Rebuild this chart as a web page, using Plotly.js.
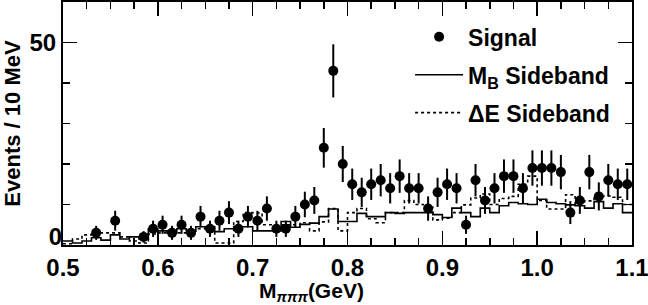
<!DOCTYPE html>
<html>
<head>
<meta charset="utf-8">
<script src="https://cdn.plot.ly/plotly-3.0.1.min.js"></script>
<style>
  html, body { margin: 0; padding: 0; background: #fff; }
  #chart { width: 648px; height: 305px; }
</style>
</head>
<body>
<div id="chart"></div>
<script>
// Bin centers (GeV), 10 MeV bins from 0.5 to 1.1
const binCenters = [
  0.505, 0.515, 0.525, 0.535, 0.545, 0.555, 0.565, 0.575, 0.585, 0.595,
  0.605, 0.615, 0.625, 0.635, 0.645, 0.655, 0.665, 0.675, 0.685, 0.695,
  0.705, 0.715, 0.725, 0.735, 0.745, 0.755, 0.765, 0.775, 0.785, 0.795,
  0.805, 0.815, 0.825, 0.835, 0.845, 0.855, 0.865, 0.875, 0.885, 0.895,
  0.905, 0.915, 0.925, 0.935, 0.945, 0.955, 0.965, 0.975, 0.985, 0.995,
  1.005, 1.015, 1.025, 1.035, 1.045, 1.055, 1.065, 1.075, 1.085, 1.095
];
const binWidth = 0.01;

// Signal region events per bin (null = empty bin, no marker)
const signalCounts = [
  null, null, null, 3, null, 6, null, null, 2, 4,
  5, 3, 5, 3, 7, 4, 6, 8, 4, 7,
  6, 9, 4, 4, 7, 10, 11, 24, 43, 20,
  15, 13, 15, 16, 14, 17, 14, 14, 9, 13,
  15, 14, 5, 16, 11, 14, 17, 17, 14, 19,
  19, 19, 18, 8, 11, 18, 12, 16, 15, 15
];

// M_B sideband (scaled), solid histogram
const mbSideband = [
  1.0, 0.5, 1.0, 1.8, 1.2, 2.5, 1.5, 2.0, 1.5, 4.0,
  3.5, 3.0, 4.0, 3.5, 4.5, 4.0, 3.3, 4.0, 4.5, 4.5,
  3.5, 3.5, 3.5, 5.8, 4.4, 5.1, 5.4, 7.0, 8.9, 5.8,
  5.8, 7.8, 7.0, 7.0, 8.0, 7.8, 8.0, 8.0, 8.0, 7.5,
  6.8, 9.1, 8.0, 7.0, 9.1, 8.0, 9.7, 10.5, 10.2, 10.0,
  11.3, 10.5, 10.2, 9.9, 9.7, 9.1, 10.7, 9.1, 10.2, 8.0
];

// ΔE sideband (scaled), dotted histogram
const deSideband = [
  0.3, 1.5, 2.5, 3.0, 3.0, 3.0, 2.0, 1.0, 0.5, 2.7,
  3.0, 3.5, 3.0, 3.5, 4.0, 4.5, 0.5, 0.5, 5.8, 8.0,
  7.9, 5.0, 5.0, 5.0, 5.0, 5.5, 3.5, 5.7, 9.0, 3.5,
  8.0, 9.0, 6.5, 5.5, 8.0, 8.0, 11.0, 10.0, 9.3, 6.2,
  6.6, 8.0, 9.9, 11.6, 12.6, 10.0, 11.5, 12.0, 15.0, 17.0,
  11.0, 8.9, 8.9, 12.4, 10.2, 10.9, 12.0, 12.1, 11.8, 10.0
];

const xTickVals = [0.5, 0.6, 0.7, 0.8, 0.9, 1.0, 1.1];
const yTickVals = [0, 50];
const yTickText = ['', '50'];
const yZeroVals = [0];
const legendNames = ['Signal', 'M<sub>B</sub> Sideband', 'ΔE Sideband'];

// Step outline: lower edges plus the final upper edge
function stepX(centers) {
  const xs = centers.map(c => c - binWidth / 2);
  xs.push(centers[centers.length - 1] + binWidth / 2);
  return xs;
}
function stepY(vals) {
  const ys = vals.slice();
  ys.push(vals[vals.length - 1]);
  return ys;
}

const FONT = 'Liberation Sans, Arial, Helvetica, sans-serif';

const traces = [
  {
    x: stepX(binCenters), y: stepY(mbSideband),
    type: 'scatter', mode: 'lines', name: legendNames[1],
    line: { shape: 'hv', color: 'black', width: 1.6 },
    legendgroup: 'b', legendrank: 2, hoverinfo: 'skip'
  },
  {
    x: stepX(binCenters), y: stepY(deSideband),
    type: 'scatter', mode: 'lines', name: legendNames[2],
    line: { shape: 'hv', color: 'black', width: 1.6, dash: 'dot' },
    legendgroup: 'c', legendrank: 3, hoverinfo: 'skip'
  },
  {
    x: binCenters, y: signalCounts,
    type: 'scatter', mode: 'markers', name: legendNames[0],
    marker: { symbol: 'circle', size: 10, color: 'black' },
    error_y: { type: 'sqrt', visible: true, width: 0, thickness: 2, color: 'black' },
    legendgroup: 'a', legendrank: 1
  },
  // empty helper trace so the overlaid axis carrying the "0" label is drawn
  {
    x: [], y: [], type: 'scatter', mode: 'markers',
    xaxis: 'x', yaxis: 'y2', showlegend: false, hoverinfo: 'skip'
  }
];

const layout = {
  width: 648, height: 305,
  margin: { l: 63, r: 16, t: 2, b: 60 },
  paper_bgcolor: 'white', plot_bgcolor: 'white',
  font: { family: FONT, size: 22, color: 'black', weight: 'bold' },
  showlegend: true,
  legend: {
    x: 0.61, y: 0.945, xanchor: 'left', yanchor: 'top',
    bgcolor: 'rgba(0,0,0,0)', borderwidth: 0,
    font: { family: FONT, size: 23, color: 'black', weight: 'bold' },
    itemwidth: 48, tracegroupgap: 5, traceorder: 'grouped'
  },
  xaxis: {
    range: [0.5, 1.1],
    tickmode: 'array', tickvals: xTickVals, tickformat: '.1f',
    ticks: 'inside', ticklen: 14, tickwidth: 1.5, tickcolor: 'black',
    minor: { dtick: 0.025, tick0: 0.5, ticks: 'inside', ticklen: 7, tickwidth: 1.5, tickcolor: 'black' },
    showline: true, linewidth: 2, linecolor: 'black', mirror: 'ticks',
    showgrid: false, zeroline: false,
    ticklabeloverflow: 'allow',
    tickfont: { family: FONT, size: 24, color: 'black', weight: 'bold' }
  },
  yaxis: {
    range: [0, 60],
    tickmode: 'array', tickvals: yTickVals, ticktext: yTickText,
    ticks: 'inside', ticklen: 14, tickwidth: 1.5, tickcolor: 'black',
    minor: { dtick: 10, tick0: 0, ticks: 'inside', ticklen: 7, tickwidth: 1.5, tickcolor: 'black' },
    showline: true, linewidth: 2, linecolor: 'black', mirror: 'ticks',
    showgrid: false, zeroline: false,
    tickfont: { family: FONT, size: 24, color: 'black', weight: 'bold' },
    title: { text: 'Events / 10 MeV', standoff: 4, font: { family: FONT, size: 22, color: 'black', weight: 'bold' } }
  },
  yaxis2: {
    overlaying: 'y', matches: 'y', side: 'left',
    tickmode: 'array', tickvals: yZeroVals,
    ticks: '', showline: false, showgrid: false, zeroline: false,
    ticklabelshift: -8,
    tickfont: { family: FONT, size: 24, color: 'black', weight: 'bold' }
  },
  annotations: [
    {
      text: 'M<sub><i>πππ</i></sub>(GeV)',
      xref: 'paper', yref: 'paper',
      x: (311 - 63) / 569, y: -(292 - 245) / 243, xanchor: 'center', yanchor: 'middle',
      showarrow: false,
      font: { family: FONT, size: 21, color: 'black', weight: 'bold' }
    }
  ]
};

Plotly.newPlot('chart', traces, layout, { staticPlot: true, displayModeBar: false });
</script>
</body>
</html>
